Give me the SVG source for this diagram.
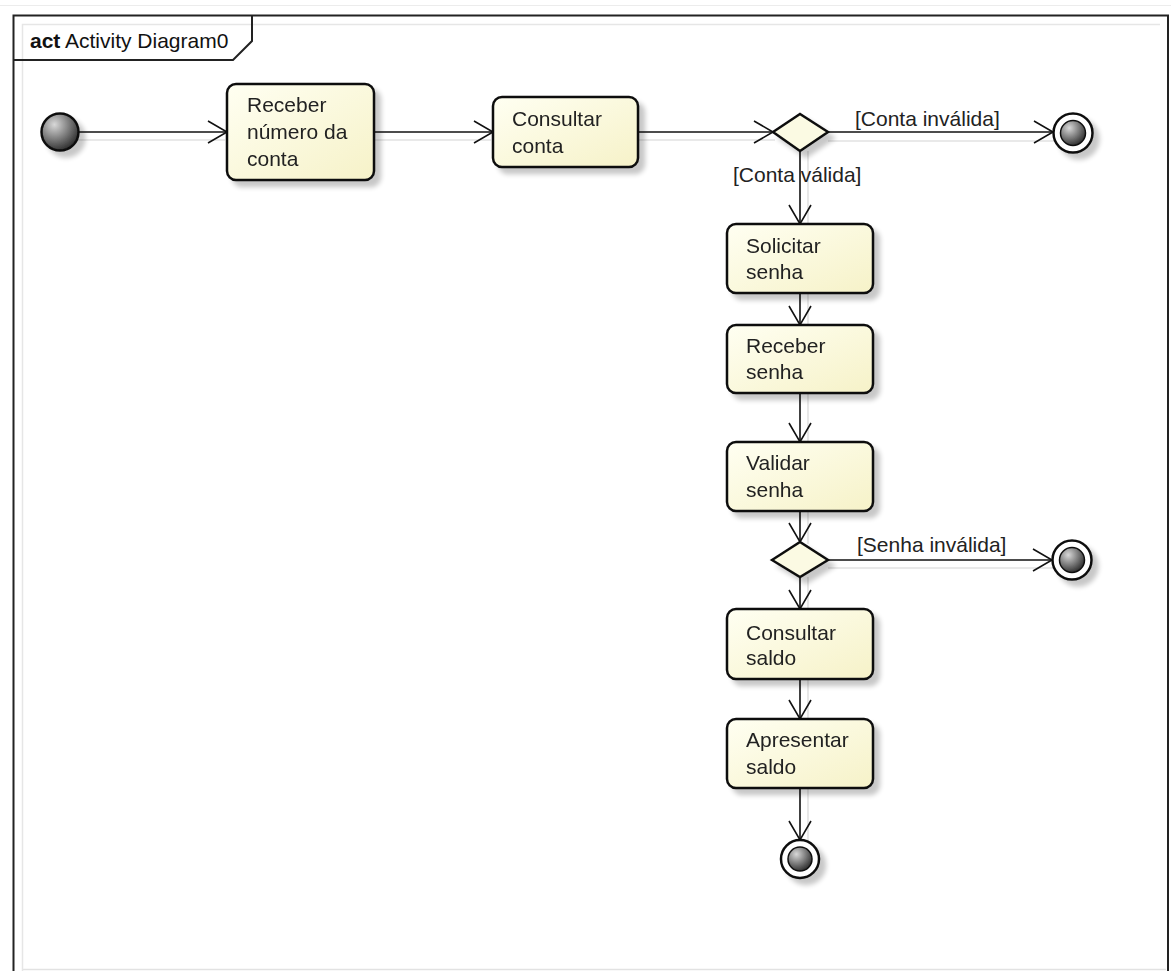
<svg xmlns="http://www.w3.org/2000/svg" width="1171" height="971" viewBox="0 0 1171 971">
<style>
.lbl{font-family:"Liberation Sans",Arial,sans-serif;font-size:21px;fill:#222}
.act rect{fill:url(#nodeFill);stroke:#111;stroke-width:2.5}
.dec polygon{fill:#fbfae3;stroke:#111;stroke-width:2.5}
.edge{stroke:#111;stroke-width:1.6;fill:none}
.eshadow{stroke:#e2e2e2;stroke-width:1.6;fill:none}
.ah{stroke:#111;stroke-width:1.6;fill:none}
</style>
<defs>
<linearGradient id="nodeFill" x1="0" y1="0" x2="1" y2="1">
<stop offset="0" stop-color="#fffff2"/>
<stop offset="1" stop-color="#f6f2c8"/>
</linearGradient>
<radialGradient id="ball" cx="0.35" cy="0.3" r="0.75">
<stop offset="0" stop-color="#d8d8d8"/>
<stop offset="1" stop-color="#2a2a2a"/>
</radialGradient>
<filter id="sh" filterUnits="userSpaceOnUse" x="0" y="0" width="1171" height="971">
<feGaussianBlur in="SourceAlpha" stdDeviation="2.5"/>
<feOffset dx="6" dy="6"/>
<feComponentTransfer><feFuncA type="linear" slope="0.22"/></feComponentTransfer>
<feMerge><feMergeNode/><feMergeNode in="SourceGraphic"/></feMerge>
</filter>
</defs>
<rect x="0" y="0" width="1171" height="971" fill="#fff"/>
<line x1="0" y1="5.5" x2="1171" y2="5.5" stroke="#ececec" stroke-width="1"/>
<line x1="22" y1="969.5" x2="1166" y2="969.5" stroke="#e2e2e2" stroke-width="1.5"/>

<g id="frame">
<path d="M22.5 980 V24.5 H1160" fill="none" stroke="#e6e6e6" stroke-width="1.5"/>
<path d="M13.5 980 V15.5 H1168 V980" fill="none" stroke="#222" stroke-width="2"/>
<path d="M13.5 60 H233 L252 41 V15.5" fill="none" stroke="#222" stroke-width="2"/>
<text x="30" y="48" font-family="'Liberation Sans',Arial,sans-serif" font-size="21" fill="#111"><tspan font-weight="bold">act</tspan><tspan x="65">Activity Diagram0</tspan></text>
</g>

<g id="connectors">
<g class="eshadow">
<line x1="77" y1="140" x2="225" y2="140"/>
<line x1="374" y1="140" x2="491" y2="140"/>
<line x1="638" y1="140" x2="775" y2="140"/>
<line x1="828" y1="141" x2="1055" y2="141"/>
<line x1="808" y1="151" x2="808" y2="226"/>
<line x1="808" y1="293" x2="808" y2="327"/>
<line x1="808" y1="393" x2="808" y2="444"/>
<line x1="808" y1="511" x2="808" y2="544"/>
<line x1="828" y1="568" x2="1054" y2="568"/>
<line x1="808" y1="577" x2="808" y2="611"/>
<line x1="808" y1="679" x2="808" y2="721"/>
<line x1="808" y1="788" x2="808" y2="843"/>
</g>
<g class="edge">
<line x1="78" y1="132" x2="227" y2="132"/>
<line x1="374" y1="132" x2="493" y2="132"/>
<line x1="638" y1="132" x2="773" y2="132"/>
<line x1="828" y1="132" x2="1053" y2="132"/>
<line x1="800" y1="151" x2="800" y2="224"/>
<line x1="800" y1="293" x2="800" y2="325"/>
<line x1="800" y1="393" x2="800" y2="442"/>
<line x1="800" y1="511" x2="800" y2="542"/>
<line x1="828" y1="560" x2="1052" y2="560"/>
<line x1="800" y1="577" x2="800" y2="609"/>
<line x1="800" y1="679" x2="800" y2="719"/>
<line x1="800" y1="788" x2="800" y2="840"/>
</g>
<g class="ah">
<polyline points="208,121 227,132 208,143"/>
<polyline points="474,121 493,132 474,143"/>
<polyline points="754,121 773,132 754,143"/>
<polyline points="1034,121 1053,132 1034,143"/>
<polyline points="789,205 800,224 811,205"/>
<polyline points="789,306 800,325 811,306"/>
<polyline points="789,423 800,442 811,423"/>
<polyline points="789,523 800,542 811,523"/>
<polyline points="1033,549 1052,560 1033,571"/>
<polyline points="789,590 800,609 811,590"/>
<polyline points="789,700 800,719 811,700"/>
<polyline points="789,821 800,840 811,821"/>
</g>
<text class="lbl" x="855" y="126">[Conta inválida]</text>
<text class="lbl" x="733" y="182">[Conta válida]</text>
<text class="lbl" x="857" y="552">[Senha inválida]</text>
</g>

<g id="initial" filter="url(#sh)">
<circle cx="60" cy="132" r="18.5" fill="url(#ball)" stroke="#111" stroke-width="2.5"/>
</g>

<g id="receberNumero" class="act" filter="url(#sh)">
<rect x="227" y="84" width="147" height="96" rx="9"/>
<text class="lbl" x="247" y="112">Receber</text>
<text class="lbl" x="247" y="139">número da</text>
<text class="lbl" x="247" y="166">conta</text>
</g>

<g id="consultarConta" class="act" filter="url(#sh)">
<rect x="493" y="97" width="145" height="70" rx="9"/>
<text class="lbl" x="512" y="126">Consultar</text>
<text class="lbl" x="512" y="153">conta</text>
</g>

<g id="decisao1" class="dec" filter="url(#sh)">
<polygon points="773,132 800,114 828,132 800,151"/>
</g>

<g id="final1" filter="url(#sh)">
<circle cx="1073" cy="133" r="19.5" fill="#fff" stroke="#111" stroke-width="2.5"/>
<circle cx="1073" cy="133" r="12.5" fill="url(#ball)" stroke="#111" stroke-width="1.5"/>
</g>

<g id="solicitarSenha" class="act" filter="url(#sh)">
<rect x="727" y="224" width="146" height="69" rx="9"/>
<text class="lbl" x="746" y="253">Solicitar</text>
<text class="lbl" x="746" y="279">senha</text>
</g>

<g id="receberSenha" class="act" filter="url(#sh)">
<rect x="727" y="325" width="146" height="68" rx="9"/>
<text class="lbl" x="746" y="353">Receber</text>
<text class="lbl" x="746" y="379">senha</text>
</g>

<g id="validarSenha" class="act" filter="url(#sh)">
<rect x="727" y="442" width="146" height="69" rx="9"/>
<text class="lbl" x="746" y="470">Validar</text>
<text class="lbl" x="746" y="497">senha</text>
</g>

<g id="decisao2" class="dec" filter="url(#sh)">
<polygon points="772,560 800,542 828,560 800,577"/>
</g>

<g id="final2" filter="url(#sh)">
<circle cx="1072" cy="560" r="19.5" fill="#fff" stroke="#111" stroke-width="2.5"/>
<circle cx="1072" cy="560" r="12.5" fill="url(#ball)" stroke="#111" stroke-width="1.5"/>
</g>

<g id="consultarSaldo" class="act" filter="url(#sh)">
<rect x="727" y="609" width="146" height="70" rx="9"/>
<text class="lbl" x="746" y="640">Consultar</text>
<text class="lbl" x="746" y="665">saldo</text>
</g>

<g id="apresentarSaldo" class="act" filter="url(#sh)">
<rect x="727" y="719" width="146" height="69" rx="9"/>
<text class="lbl" x="746" y="747">Apresentar</text>
<text class="lbl" x="746" y="774">saldo</text>
</g>

<g id="final3" filter="url(#sh)">
<circle cx="800" cy="859" r="19" fill="#fff" stroke="#111" stroke-width="2.5"/>
<circle cx="800" cy="859" r="12" fill="url(#ball)" stroke="#111" stroke-width="1.5"/>
</g>
</svg>
